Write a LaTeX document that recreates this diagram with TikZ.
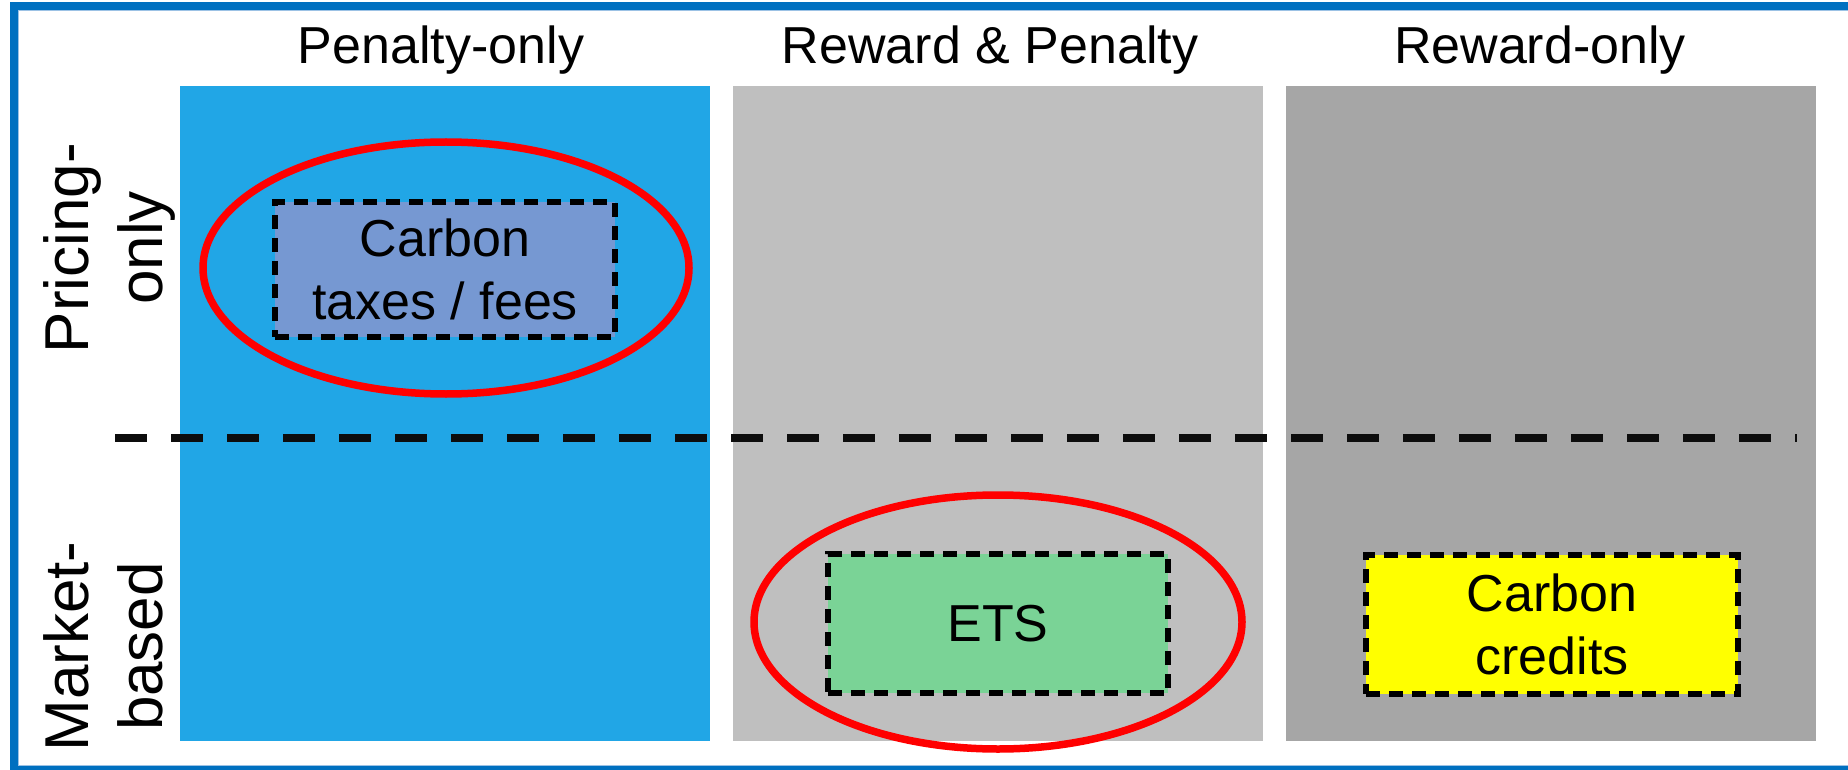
\documentclass[tikz,border=0pt]{standalone}
\usepackage{fontspec}
\setmainfont{Liberation Sans}
\usetikzlibrary{shapes.geometric}
\definecolor{framecol}{HTML}{0070C0}
\definecolor{framelight}{HTML}{9CC2E5}
\definecolor{colblue}{HTML}{21A6E6}
\definecolor{colltgray}{HTML}{BFBFBF}
\definecolor{coldkgray}{HTML}{A6A6A6}
\definecolor{taxfill}{HTML}{7698D2}
\definecolor{etsfill}{HTML}{7AD396}
\definecolor{creditfill}{HTML}{FFFF00}
\definecolor{ringred}{HTML}{FF0000}
\definecolor{splitcol}{HTML}{0D0D0D}
\begin{document}
\begin{tikzpicture}[x=1pt,y=-1pt,
  colbox/.style={rectangle, inner sep=0pt, outer sep=0pt, minimum width=530pt, minimum height=655pt, draw=none},
  ring/.style={ellipse, draw=ringred, line width=7.5pt, inner sep=0pt, outer sep=0pt},
  tagbox/.style={rectangle, draw=black, line width=5.5pt, dash pattern=on 14pt off 9pt, inner sep=0pt, outer sep=0pt, minimum height=139pt, align=center, font=\fontsize{52}{63}\selectfont},
  header/.style={anchor=base, inner sep=0pt, font=\fontsize{52}{62}\selectfont},
  rowlabel/.style={rotate=90, anchor=north, inner sep=0pt, align=center, font=\fontsize{62}{74}\selectfont},
  splitline/.style={draw=splitcol, line width=8pt, dash pattern=on 32pt off 24pt}
]
\useasboundingbox (0,0) rectangle (1848,770);
\clip (0,0) rectangle (1848,770);
% frame
\draw[framecol, line width=8pt] (1870,6) -- (14,6) -- (14,770) -- (1870,770);
\draw[framelight, line width=1pt] (1870,10.5) -- (18.5,10.5) -- (18.5,765.5) -- (1870,765.5);
% columns
\node[colbox, fill=colblue] (pen) at (445,413.5) {};
\node[colbox, fill=colltgray] (both) at (998,413.5) {};
\node[colbox, fill=coldkgray] (rew) at (1551,413.5) {};
% split line
\coordinate (sl) at (115,437.5);
\coordinate (sr) at (1797,437.5);
\draw[splitline] (sl) -- (sr);
% rings
\node[ring, minimum width=486pt, minimum height=252pt] (ring1) at (446,268) {};
\node[ring, minimum width=488pt, minimum height=254pt] (ring2) at (998,622) {};
% boxes
\node[tagbox, fill=taxfill, minimum width=340pt, minimum height=135pt] (tax) at (445,269.5) {Carbon\\taxes / fees};
\node[tagbox, fill=etsfill, minimum width=340pt] (ets) at (998,623.5) {ETS};
\node[tagbox, fill=creditfill, minimum width=372pt] (cred) at (1552,624.5) {Carbon\\credits};
% headers
\node[header] (h1) at (441,64) {Penalty-only};
\node[header] (h2) at (990,64) {Reward \& Penalty};
\node[header] (h3) at (1540,64) {Reward-only};
% row labels
\node[rowlabel] (r1) at (43.5,248) {Pricing-\\only};
\node[rowlabel] (r2) at (43.5,646.5) {Market-\\based};
\end{tikzpicture}
\end{document}
